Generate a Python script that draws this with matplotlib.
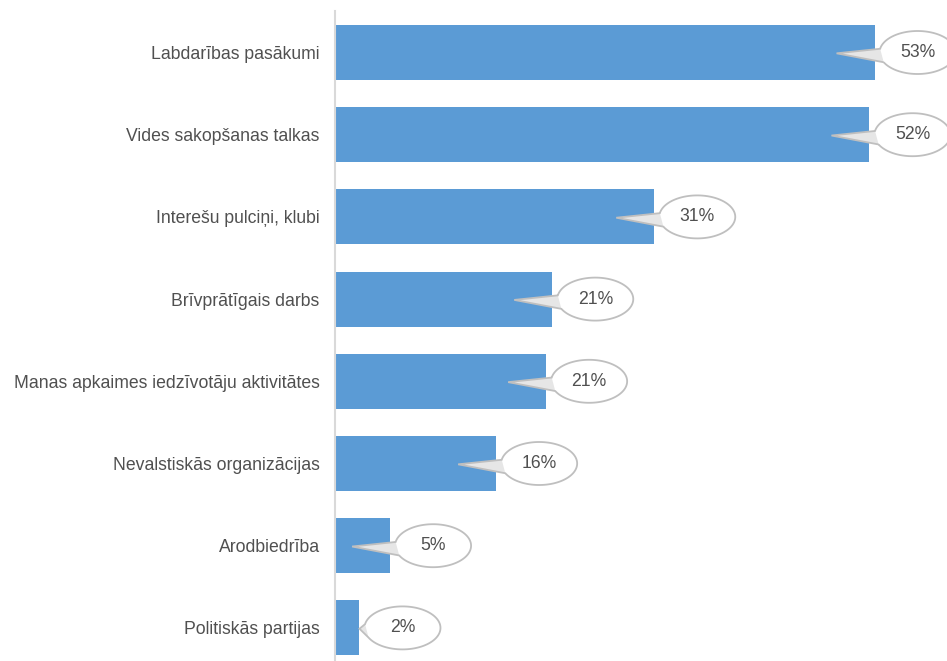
import numpy as np
import matplotlib.pyplot as plt
from matplotlib.path import Path
from matplotlib.patches import PathPatch, Polygon

categories = [
    "Labdarības pasākumi",
    "Vides sakopšanas talkas",
    "Interešu pulciņi, klubi",
    "Brīvprātīgais darbs",
    "Manas apkaimes iedzīvotāju aktivitātes",
    "Nevalstiskās organizācijas",
    "Arodbiedrība",
    "Politiskās partijas",
]
values = [52.9, 52.4, 31.3, 21.3, 20.7, 15.8, 5.4, 2.4]

plt.rcParams['font.family'] = ['Liberation Sans Narrow', 'Liberation Sans', 'DejaVu Sans']

W, H = 947, 661
fig = plt.figure(figsize=(W / 100, H / 100), dpi=100)
ax_left, ax_top, ax_bottom = 335, 11.4, 669.0
ax = fig.add_axes([ax_left / W, 1 - ax_bottom / H, 1 - ax_left / W, (ax_bottom - ax_top) / H])

xmax = 60
ax.set_xlim(0, xmax)
ax.set_ylim(len(categories) - 0.5, -0.5)

y = np.arange(len(categories))
ax.barh(y, values, height=0.67, color="#5B9BD5")

for s in ["top", "right", "bottom"]:
    ax.spines[s].set_visible(False)
ax.spines["left"].set_color("#D9D9D9")
ax.spines["left"].set_linewidth(1.5)
ax.set_xticks([])
ax.set_yticks(y)
ax.set_yticklabels(categories, fontsize=12.7, color="#505050")
ax.tick_params(axis="y", length=0, pad=11)

# pixels per data unit
px_x = (W - ax_left) / xmax
px_y = (ax_bottom - ax_top) / len(categories)

ell_w, ell_h = 76 / px_x, 43 / px_y
for yi, v in zip(y, values):
    cx = v + 43 / px_x
    tip_x = v - 38 / px_x
    if tip_x < 1.0:
        tip_x = v
    a = ell_w / 2
    b = ell_h / 2
    # ellipse outline with a gap on the lower left for the pointer
    t = np.radians(np.linspace(207, 170 + 360, 120))
    xs = cx + a * np.cos(t)
    ys = yi - b * np.sin(t)
    tip = (tip_x, yi + 0.01)
    verts = list(zip(xs, ys)) + [tip, (xs[0], ys[0])]
    codes = [Path.MOVETO] + [Path.LINETO] * (len(verts) - 2) + [Path.CLOSEPOLY]
    callout = Path(verts, codes)
    ax.add_patch(PathPatch(callout, facecolor="white", edgecolor="none",
                           clip_on=False, zorder=3))
    # light shading inside the pointer
    ax.add_patch(Polygon([tip, (xs[0], ys[0]), (xs[-1], ys[-1])], closed=True,
                         facecolor="#E6E6E6", edgecolor="none", clip_on=False, zorder=3.2))
    ax.add_patch(PathPatch(callout, facecolor="none", edgecolor="#BFBFBF",
                           linewidth=1.3, clip_on=False, zorder=3.4))
    ax.text(cx, yi, f"{v:.0f}%", ha="center", va="center", fontsize=12.7,
            color="#505050", zorder=4)

fig.savefig("out.png", dpi=100)
